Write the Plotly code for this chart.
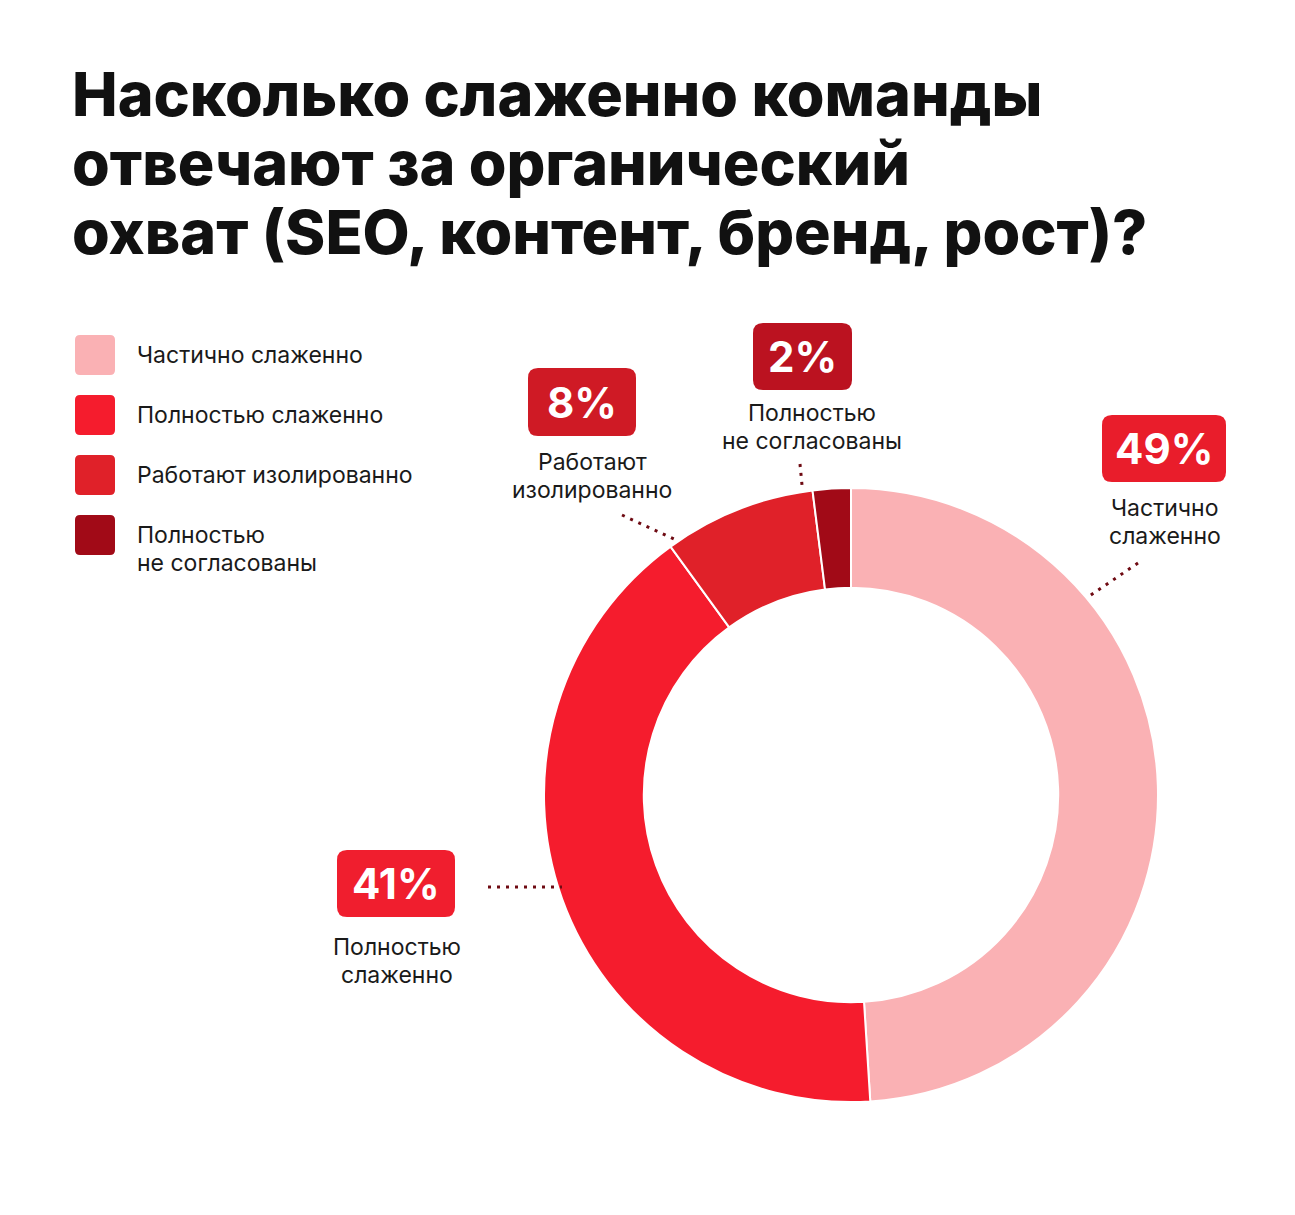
#
# Donut chart: how coherently teams handle organic reach
#
import plotly.graph_objects as go

W, H = 1295, 1215
OFF = 8  # page body margin

# data
title_lines = ["Насколько слаженно команды",
               "отвечают за органический",
               "охват (SEO, контент, бренд, рост)?"]
labels = ["Частично слаженно", "Полностью слаженно",
          "Работают изолированно", "Полностью не согласованы"]
callout_labels = ["Частично<br>слаженно", "Полностью<br>слаженно",
                  "Работают<br>изолированно", "Полностью<br>не согласованы"]
legend_labels = ["Частично слаженно", "Полностью слаженно",
                 "Работают изолированно", "Полностью<br>не согласованы"]
values = [49, 41, 8, 2]
colors = ["#FAB1B4", "#F51C2D", "#E02129", "#A10A17"]
box_colors = ["#E91D2B", "#F01E2E", "#CF1A25", "#BB1220"]

FONT = "Inter, Noto Sans, sans-serif"
LINE = 28  # line spacing of small texts, px


def X(px):
    return (px - OFF) / W


def Y(py):
    return 1 - (py - OFF) / H


def rounded_rect(x0, y0, x1, y1, r):
    # pixel coords -> paper path with rounded corners
    pts = [
        f"M {X(x0 + r)},{Y(y0)}",
        f"L {X(x1 - r)},{Y(y0)}",
        f"Q {X(x1)},{Y(y0)} {X(x1)},{Y(y0 + r)}",
        f"L {X(x1)},{Y(y1 - r)}",
        f"Q {X(x1)},{Y(y1)} {X(x1 - r)},{Y(y1)}",
        f"L {X(x0 + r)},{Y(y1)}",
        f"Q {X(x0)},{Y(y1)} {X(x0)},{Y(y1 - r)}",
        f"L {X(x0)},{Y(y0 + r)}",
        f"Q {X(x0)},{Y(y0)} {X(x0 + r)},{Y(y0)}",
        "Z",
    ]
    return " ".join(pts)


def note(x, y, text, size, color="#1a1a1a", weight=400, xanchor="center"):
    return dict(x=X(x), y=Y(y), xref="paper", yref="paper", xanchor=xanchor, yanchor="middle",
                text=text, showarrow=False,
                font=dict(family=FONT, size=size, color=color, weight=weight))


def lines(x, y_first, text, size, xanchor="center"):
    # one annotation per line so the spacing can be set
    return [note(x, y_first + k * LINE, part, size, xanchor=xanchor)
            for k, part in enumerate(text.split("<br>"))]


cx, cy, R = 851, 795, 307

fig = go.Figure(go.Pie(
    labels=labels, values=values, sort=False, direction="clockwise", rotation=0,
    hole=0.675, textinfo="none", showlegend=False,
    marker=dict(colors=colors, line=dict(color="white", width=2)),
    domain=dict(x=[X(cx - R), X(cx + R)], y=[Y(cy + R), Y(cy - R)]),
))

shapes = []
annotations = []

# title
for i, line in enumerate(title_lines):
    annotations.append(note(70, 94 + i * 69, line, 61, color="#111111", weight=800, xanchor="left"))

# legend
for i, (lab, col) in enumerate(zip(legend_labels, colors)):
    top = 335 + i * 60
    shapes.append(dict(type="path", xref="paper", yref="paper", path=rounded_rect(75, top, 115, top + 40, 5),
                       fillcolor=col, line=dict(width=0)))
    annotations += lines(135, top + 20, lab, 23, xanchor="left")

# callouts: box (x0, y0, x1, y1), first label line centre, leader line
boxes = [(1102, 415, 1226, 482), (337, 850, 455, 917), (528, 368, 636, 436), (753, 323, 852, 390)]
label_pos = [(1165, 508), (397, 947), (592, 462), (812, 413)]
leaders = [((1138, 563), (1088, 597)), ((488, 887), (562, 887)),
           ((622, 515), (676, 540)), ((800, 464), (802, 485))]

for v, bc, (x0, y0, x1, y1), (lx, ly), lab, (p0, p1) in zip(values, box_colors, boxes, label_pos,
                                                             callout_labels, leaders):
    shapes.append(dict(type="path", xref="paper", yref="paper", path=rounded_rect(x0, y0, x1, y1, 10),
                       fillcolor=bc, line=dict(width=0)))
    annotations.append(note((x0 + x1) / 2, (y0 + y1) / 2, f"{v}%", 42, color="white", weight=700))
    annotations += lines(lx, ly, lab, 23)
    shapes.append(dict(type="line", xref="paper", yref="paper",
                       x0=X(p0[0]), y0=Y(p0[1]), x1=X(p1[0]), y1=Y(p1[1]),
                       line=dict(color="#6E0A12", width=3, dash="3px,6px")))

fig.update_layout(
    width=W, height=H, margin=dict(l=0, r=0, t=0, b=0),
    paper_bgcolor="white", plot_bgcolor="white",
    shapes=shapes, annotations=annotations,
)
fig.write_html("out.html")
